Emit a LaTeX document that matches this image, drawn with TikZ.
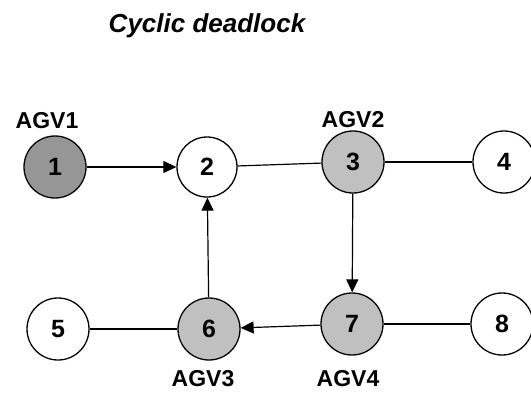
\documentclass[tikz,border=0pt]{standalone}
\usepackage{fontspec}
\setmainfont{Liberation Sans}
\usetikzlibrary{arrows.meta, positioning}
\definecolor{agvdark}{RGB}{150,150,150}
\definecolor{agvlight}{RGB}{192,192,192}
\tikzset{
    cell/.style={circle, draw, line width=1.3pt, minimum size=62pt, inner sep=0pt,
        font=\fontsize{25}{28}\selectfont\bfseries},
    agv/.style={font=\fontsize{23}{28}\selectfont\bfseries, inner sep=0pt},
    link/.style={line width=1.2pt},
    move/.style={line width=1.2pt, -{Triangle[length=13pt, width=12pt]}}
}

\begin{document}
\begin{tikzpicture}[x=1pt, y=-1pt]
            \useasboundingbox (0,0) rectangle (531,394);
            \node[anchor=base, font=\fontsize{26}{30}\selectfont\bfseries\itshape] (title) at (207,32) {Cyclic deadlock};

            \node[cell, fill=agvdark] (n1) at (55,167) {1};
            \node[cell, minimum size=60pt] (n2) at (207,167) {2};
            \node[cell, fill=agvlight] (n3) at (353,162) {3};
            \node[cell] (n4) at (504,162) {4};
            \node[cell] (n5) at (58,329) {5};
            \node[cell, fill=agvlight] (n6) at (209,329) {6};
            \node[cell, fill=agvlight] (n7) at (352,324) {7};
            \node[cell] (n8) at (502,324) {8};

            \node[agv, above=6pt of n1, xshift=-8pt] (agv1) {AGV1};
            \node[agv, above=2pt of n3] (agv2) {AGV2};
            \node[agv, below=10pt of n6, xshift=-6pt] (agv3) {AGV3};
            \node[agv, below=15pt of n7, xshift=-4pt] (agv4) {AGV4};

            \draw[move] (n1) -- (n2);
            \draw[link] (n2) -- (n3);
            \draw[link] (n3) -- (n4);
            \draw[move] (n3) -- (n7);
            \draw[move] (n7) -- (n6);
            \draw[move] (n6) -- (n2);
            \draw[link] (n5) -- (n6);
            \draw[link] (n7) -- (n8);
        \end{tikzpicture}
\end{document}
